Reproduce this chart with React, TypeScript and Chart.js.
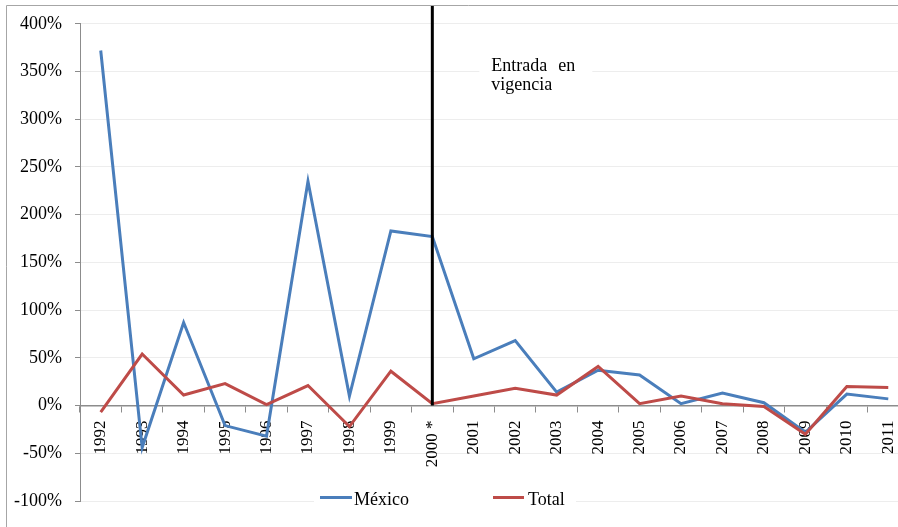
import { useEffect, useRef } from 'react';
import { Chart, registerables } from 'chart.js';

Chart.register(...registerables);

const categories = ['1992', '1993', '1994', '1995', '1996', '1997', '1998', '1999', '2000 *', '2001', '2002', '2003', '2004', '2005', '2006', '2007', '2008', '2009', '2010', '2011'];
const mexico = [372, -44, 87, -21, -32, 235, 10, 183, 177, 49, 68, 14, 37, 32, 2, 13, 3, -28, 12, 7];
const total = [-7, 54, 11, 23, 1, 21, -22, 36, 2, 10, 18, 11, 41, 2, 10, 2, -1, -30, 20, 19];
const seriesNames = ['México', 'Total'];
const seriesColors = ['#4A7EBB', '#BE4B48'];
const yMin = -100;
const yMax = 400;
const yStep = 50;
const entryCategory = '2000 *';
const annotationWords = ['Entrada', 'en'];
const annotationLine2 = 'vigencia';

const SERIF = '"Liberation Serif", "Times New Roman", serif';

const overlayPlugin = {
  id: 'overlay',
  afterDraw(chart: any) {
    const { ctx } = chart;
    const x = chart.scales.x;
    const y = chart.scales.y;
    ctx.save();
    // outer frame (top and left)
    ctx.strokeStyle = '#a6a6a6';
    ctx.lineWidth = 1;
    ctx.beginPath();
    ctx.moveTo(6.5, chart.height);
    ctx.lineTo(6.5, 5.5);
    ctx.lineTo(chart.width, 5.5);
    ctx.stroke();

    // vertical marker line
    const idx = categories.indexOf(entryCategory);
    const px = x.getPixelForValue(idx);
    ctx.strokeStyle = '#000';
    ctx.lineWidth = 3;
    ctx.beginPath();
    ctx.moveTo(px, 6);
    ctx.lineTo(px, y.getPixelForValue(0));
    ctx.stroke();

    // annotation
    ctx.fillStyle = '#fff';
    ctx.fillRect(px + 47, 50, 113, 50);
    ctx.fillStyle = '#000';
    ctx.font = '18px ' + SERIF;
    ctx.textAlign = 'left';
    ctx.textBaseline = 'alphabetic';
    ctx.fillText(annotationWords[0], px + 59, 70.5);
    ctx.fillText(annotationWords[1], px + 126, 70.5);
    ctx.fillText(annotationLine2, px + 59, 90);

    // legend
    ctx.fillStyle = '#fff';
    ctx.fillRect(314, 489, 262, 22);
    const items = [
      { x0: 320, x1: 352, tx: 354 },
      { x0: 493, x1: 524, tx: 528 },
    ];
    items.forEach((it, i) => {
      ctx.strokeStyle = seriesColors[i];
      ctx.lineWidth = 3;
      ctx.beginPath();
      ctx.moveTo(it.x0, 497.5);
      ctx.lineTo(it.x1, 497.5);
      ctx.stroke();
      ctx.fillStyle = '#000';
      ctx.fillText(seriesNames[i], it.tx, 505);
    });
    ctx.restore();
  },
};

export default function App() {
  const ref = useRef<HTMLCanvasElement | null>(null);

  useEffect(() => {
    if (!ref.current) return;
    const chart = new Chart(ref.current, {
      type: 'line',
      data: {
        labels: categories,
        datasets: [
          {
            label: seriesNames[0],
            data: mexico,
            borderColor: seriesColors[0],
            backgroundColor: seriesColors[0],
            borderWidth: 3,
            pointRadius: 0,
            tension: 0,
            order: 2,
          },
          {
            label: seriesNames[1],
            data: total,
            borderColor: seriesColors[1],
            backgroundColor: seriesColors[1],
            borderWidth: 3,
            pointRadius: 0,
            tension: 0,
            order: 1,
          },
        ],
      },
      options: {
        responsive: false,
        animation: false,
        devicePixelRatio: 1,
        layout: { padding: { left: 0, top: 21, right: 21, bottom: 26 } },
        plugins: {
          legend: { display: false },
          tooltip: { enabled: false },
        },
        scales: {
          x: {
            type: 'category',
            position: { y: 0 } as any,
            offset: true,
            grid: {
              display: true,
              offset: true,
              drawOnChartArea: false,
              drawTicks: true,
              tickLength: 6,
              tickColor: '#8c8c8c',
            },
            border: { display: true, color: '#8c8c8c', width: 1.5 },
            ticks: {
              autoSkip: false,
              maxRotation: 90,
              minRotation: 90,
              padding: 9,
              color: '#000',
              font: { family: SERIF, size: 17 },
            },
          },
          y: {
            min: yMin,
            max: yMax,
            afterFit: (scale: any) => {
              scale.width = 80;
            },
            grid: {
              color: '#ededed',
              lineWidth: 1,
              drawTicks: true,
              tickLength: 5,
              tickColor: '#8c8c8c',
            },
            border: { display: true, color: '#8c8c8c', width: 1 },
            ticks: {
              stepSize: yStep,
              padding: 13,
              color: '#000',
              font: { family: SERIF, size: 18 },
              callback: (v: any) => v + '%',
            },
          },
        },
      },
      plugins: [overlayPlugin],
    });
    return () => chart.destroy();
  }, []);

  return (
    <div style={{ position: 'fixed', left: 0, top: 0, width: 898, height: 527, overflow: 'hidden', background: '#fff' }}>
      <canvas ref={ref} width={930} height={527} style={{ width: 930, height: 527, display: 'block' }} />
    </div>
  );
}
